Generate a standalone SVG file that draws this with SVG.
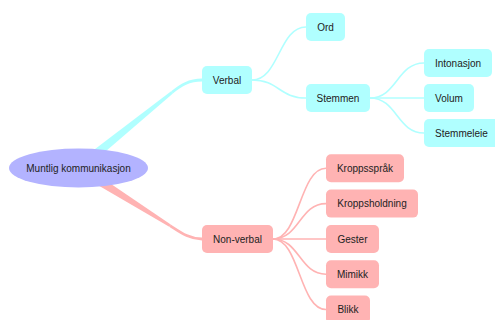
<svg xmlns="http://www.w3.org/2000/svg" width="495" height="320" viewBox="0 0 495 320">
<style>
text{font-family:"Liberation Sans",Arial,sans-serif;font-size:10px;fill:#222;text-anchor:middle}
.c{fill:#b0ffff}
.p{fill:#ffb3b3}
.ec{fill:none;stroke:#b0ffff;stroke-width:1.6}
.ep{fill:none;stroke:#ffb3b3;stroke-width:1.6}
</style>
<rect width="495" height="320" fill="#fff"/>
<g id="connectors">
<polygon class="c" points="75.35,164.1 171.1,91.2 172.9,93.4 81.65,171.9"/>
<path d="M172,92.3 C181,85 189,80 202,80" fill="none" stroke="#b0ffff" stroke-width="2.8"/>
<polygon class="p" points="81.17,163.77 170.75,224.4 169.25,226.8 75.83,172.23"/>
<path d="M170,225.6 C180,232 189,239 202,239" fill="none" stroke="#ffb3b3" stroke-width="2.8"/>
<path class="ec" d="M252,80 C279,80 279,27 306,27"/>
<path class="ec" d="M252,80 C279,80 279,98 306,98"/>
<path class="ec" d="M370,98 C397,98 397,63 424,63"/>
<path class="ec" d="M370,98 L424,98"/>
<path class="ec" d="M370,98 C397,98 397,133 424,133"/>
<path class="ep" d="M273,239 C299.5,239 299.5,168.3 326,168.3"/>
<path class="ep" d="M273,239 C299.5,239 299.5,203.6 326,203.6"/>
<path class="ep" d="M273,239 L326,239"/>
<path class="ep" d="M273,239 C299.5,239 299.5,274.2 326,274.2"/>
<path class="ep" d="M273,239 C299.5,239 299.5,309.5 326,309.5"/>
</g>
<g id="root"><ellipse cx="78.5" cy="168" rx="69.5" ry="19.5" fill="#b3b3ff"/><text x="78.5" y="171.5">Muntlig kommunikasjon</text></g>
<g id="verbal"><rect class="c" x="202" y="66" width="50" height="28" rx="5"/><text x="227" y="83.5">Verbal</text></g>
<g id="ord"><rect class="c" x="306" y="13" width="39" height="28" rx="5"/><text x="325.5" y="30.5">Ord</text></g>
<g id="stemmen"><rect class="c" x="306" y="84" width="64" height="28" rx="5"/><text x="338" y="101.5">Stemmen</text></g>
<g id="intonasjon"><rect class="c" x="424" y="49" width="68" height="28" rx="5"/><text x="458" y="66.5">Intonasjon</text></g>
<g id="volum"><rect class="c" x="424" y="84" width="50" height="28" rx="5"/><text x="449" y="101.5">Volum</text></g>
<g id="stemmeleie"><rect class="c" x="424" y="119" width="75" height="28" rx="5"/><text x="461.5" y="136.5">Stemmeleie</text></g>
<g id="nonverbal"><rect class="p" x="202" y="225" width="71" height="28" rx="5"/><text x="237.5" y="242.5">Non-verbal</text></g>
<g id="kroppssprak"><rect class="p" x="326" y="154.3" width="78" height="28" rx="5"/><text x="365" y="171.8">Kroppsspråk</text></g>
<g id="kroppsholdning"><rect class="p" x="326" y="189.6" width="92" height="28" rx="5"/><text x="372" y="207.1">Kroppsholdning</text></g>
<g id="gester"><rect class="p" x="326" y="225" width="53" height="28" rx="5"/><text x="352.5" y="242.5">Gester</text></g>
<g id="mimikk"><rect class="p" x="326" y="260.2" width="53" height="28" rx="5"/><text x="352.5" y="277.7">Mimikk</text></g>
<g id="blikk"><rect class="p" x="326" y="295.5" width="44" height="28" rx="5"/><text x="348" y="313">Blikk</text></g>
</svg>
